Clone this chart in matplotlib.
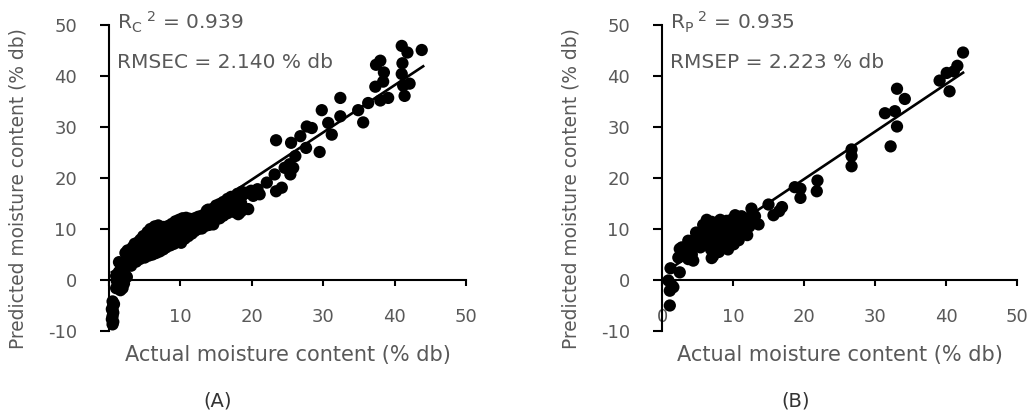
import matplotlib
matplotlib.use("Agg")
import matplotlib.pyplot as plt

plt.rcParams['font.family'] = ['DejaVu Sans']

# ---------------- Panel A: calibration set ----------------
A_actual = [
    0.5, 0.6, 0.4, 0.6, 0.5, 0.4, 0.6, 0.5, 0.7, 0.5,
    1.0, 1.3, 1.6, 1.9, 1.0, 1.4, 1.7, 2.1, 1.4, 1.9, 2.2, 2.5, 1.6, 2.4, 1.1, 2.3, 2.6,
    2.7, 2.9, 3.1, 3.2, 3.4, 3.3, 3.6, 3.8, 3.9, 4.0, 4.1,
    4.3, 4.5, 4.6, 4.4, 4.8, 5.0, 5.1, 5.2, 5.0, 5.3, 5.4, 5.6, 5.7, 5.8, 5.6, 5.9, 5.8,
    6.1, 6.2, 6.0, 6.3, 6.2, 6.4, 6.6, 6.7, 6.5, 6.8, 6.7, 6.9, 7.1, 7.2, 7.0, 7.3, 7.2,
    7.6, 7.7, 7.5, 7.8, 7.6,
    8.0, 8.1, 8.2, 8.0, 8.3, 8.6, 8.5, 8.7, 8.6, 8.8, 9.1, 9.0, 9.2, 9.1, 9.3,
    9.6, 9.5, 9.7, 9.6, 9.8,
    10.1, 10.0, 10.2, 10.1, 10.3, 10.6, 10.5, 10.7, 10.6, 10.8, 11.1, 11.0, 11.2, 11.1, 11.3,
    11.6, 11.5, 11.7, 11.6, 12.0, 12.1, 12.2, 12.0,
    12.5, 12.6, 12.7, 12.5, 13.0, 13.1, 13.2, 13.0, 13.5, 13.6, 13.4, 13.7, 14.0, 14.1, 14.2, 13.9,
    14.6, 14.5, 14.7, 14.6, 15.0, 15.1, 15.2, 15.0, 15.5, 15.6, 15.7, 15.5, 16.0, 16.1, 16.2, 16.0,
    16.6, 16.5, 16.7, 16.6, 17.1, 17.0, 17.2, 17.1, 17.6, 17.5, 17.7, 18.1, 18.0, 18.2, 18.0,
    18.6, 18.5, 18.7, 18.6,
    19.3, 19.5, 18.3, 20.2, 21.1, 22.1, 23.4, 23.2, 24.2, 24.6, 25.4, 25.8, 25.3, 26.1,
    23.4, 25.5, 26.8, 27.6, 27.7, 28.4, 29.5, 29.8, 30.7, 31.2, 32.4, 32.4, 34.9, 35.6,
    36.3, 37.3, 38.0, 39.1, 38.4, 38.5, 37.4, 38.0, 41.0, 41.8, 43.8, 41.1, 41.0, 42.1,
    41.2, 41.4, 19.9, 20.8,
]
A_predicted = [
    -4.2, -5.0, -5.7, -6.4, -7.1, -7.7, -8.2, -8.7, -4.7, -6.0,
    -1.6, -0.6, -2.0, -1.6, 0.8, 1.6, 0.3, -0.7, 3.5, 2.9, 1.1, 0.6, 3.3, 3.2, -0.2, 5.3, 5.8,
    4.2, 5.6, 2.8, 4.1, 5.3, 6.4, 7.1, 3.6, 5.0, 6.2, 7.4,
    4.1, 5.5, 6.8, 7.9, 8.6, 4.4, 5.6, 6.6, 7.6, 8.5, 9.4, 4.8, 6.0, 7.1, 8.2, 9.1, 10.0,
    5.0, 6.2, 7.4, 8.5, 9.6, 10.5, 5.3, 6.6, 7.8, 9.0, 10.2, 10.7, 5.6, 6.9, 8.1, 9.3, 10.1,
    6.0, 7.2, 8.4, 9.5, 10.4,
    6.4, 7.6, 8.7, 9.7, 10.6, 6.8, 7.9, 9.1, 10.1, 11.0, 7.1, 8.3, 9.4, 10.5, 11.5,
    7.6, 8.7, 9.9, 10.9, 11.8,
    7.3, 8.9, 10.1, 11.1, 12.1, 8.1, 9.3, 10.4, 11.4, 12.2, 8.6, 9.6, 10.6, 11.6, 12.0,
    9.1, 10.1, 11.1, 11.9, 9.6, 10.4, 11.3, 12.1,
    10.0, 10.9, 11.7, 12.4, 10.1, 11.1, 12.0, 12.6, 10.6, 11.6, 12.6, 13.6, 10.8, 11.9, 12.9, 13.8,
    10.9, 12.2, 13.1, 14.0, 11.9, 12.9, 13.6, 14.6, 12.1, 13.1, 14.1, 14.9, 12.6, 13.6, 14.6, 15.3,
    13.1, 14.1, 15.1, 15.9, 13.6, 14.6, 15.6, 16.3, 13.3, 14.9, 16.1, 12.9, 14.3, 15.6, 16.9,
    13.6, 15.1, 16.6, 17.3,
    17.1, 13.9, 13.2, 16.5, 16.8, 19.1, 17.4, 20.7, 18.1, 22.0, 20.7, 22.0, 22.7, 24.3,
    27.4, 26.9, 28.2, 25.9, 30.1, 29.8, 25.1, 33.3, 30.8, 28.5, 32.1, 35.7, 33.3, 30.9,
    34.7, 37.9, 35.2, 35.7, 38.9, 40.7, 42.2, 43.0, 45.9, 44.6, 45.1, 42.5, 40.4, 38.5,
    38.1, 36.1, 17.5, 17.8,
]
A_fit_intercept, A_fit_slope = 1.16, 0.926
A_fit_range = [0.4, 44.0]
A_r2_text = r'R$_\mathregular{C}$$^\mathregular{\ 2}$ = 0.939'
A_rmse_text = 'RMSEC = 2.140 % db'

# ---------------- Panel B: prediction set ----------------
B_actual = [
    1.1, 1.1, 1.4, 0.9, 1.2, 2.5, 2.3, 2.5, 3.7, 4.4, 3.0, 3.7, 4.6, 4.0, 5.4, 5.0, 5.8, 6.3,
    6.0, 6.5, 6.8, 7.2, 7.5, 7.0, 7.4, 7.8, 8.2, 8.0, 8.3, 8.5, 8.7, 8.0, 9.0, 9.2, 9.0, 9.4,
    9.6, 9.8, 10.0, 10.3, 10.2, 10.5, 10.6, 10.8, 11.0, 11.2, 11.0, 11.5, 11.8, 12.0, 12.3,
    12.0, 12.6, 13.1, 13.6, 13.0, 15.0, 15.7, 16.9, 16.5, 18.7, 19.5, 19.5, 21.9, 21.8,
    26.7, 26.7, 26.7, 32.2, 33.1, 32.8, 31.4, 33.1, 34.2, 39.1, 40.1, 40.5, 41.1, 41.6, 42.4,
    1.6, 2.8, 5.1, 7.6, 8.8, 9.4, 10.9, 11.4,
    6.9, 7.3, 7.7, 7.9, 8.4, 8.6, 8.9, 9.1, 9.3, 9.5, 9.7, 9.9, 10.1, 10.3, 10.5, 10.8,
    11.0, 11.3, 11.5, 11.8, 12.2, 12.5, 12.8, 6.2, 6.6, 7.0, 5.5, 4.8, 3.2, 4.2, 7.0,
]
B_predicted = [
    -5.0, -2.1, -1.1, -0.1, 2.3, 1.5, 4.4, 6.1, 4.1, 3.8, 5.0, 7.7, 8.0, 6.5, 6.4, 7.0, 10.8, 11.8,
    8.5, 9.5, 8.0, 4.7, 5.7, 7.0, 9.0, 10.2, 11.8, 6.5, 8.0, 9.5, 11.0, 5.5, 7.2, 8.5, 10.0, 11.2,
    6.8, 9.0, 10.5, 12.7, 8.0, 9.5, 11.5, 7.8, 10.0, 12.5, 8.8, 11.0, 9.5, 12.0, 10.5,
    8.8, 14.0, 12.5, 10.9, 11.5, 14.8, 12.7, 14.3, 13.5, 18.2, 17.9, 16.1, 19.5, 17.4,
    25.6, 24.3, 22.3, 26.2, 30.1, 33.1, 32.7, 37.5, 35.5, 39.1, 40.6, 37.0, 40.9, 42.0, 44.6,
    -1.4, 6.4, 7.0, 9.8, 8.2, 10.6, 10.2, 9.0,
    6.0, 7.5, 8.8, 10.8, 6.2, 7.5, 8.9, 11.6, 6.0, 7.8, 10.2, 11.9, 7.0, 8.7, 10.8, 12.3,
    9.0, 10.3, 12.0, 10.8, 11.3, 12.4, 12.8, 7.2, 10.6, 11.4, 9.0, 9.3, 6.3, 5.0, 4.3,
]
B_fit_intercept, B_fit_slope = 1.13, 0.932
B_fit_range = [0.9, 42.4]
B_r2_text = r'R$_\mathregular{P}$$^\mathregular{\ 2}$ = 0.935'
B_rmse_text = 'RMSEP = 2.223 % db'

x_ticks = [0, 10, 20, 30, 40, 50]
y_ticks = [-10, 0, 10, 20, 30, 40, 50]
x_label = 'Actual moisture content (% db)'
y_label = 'Predicted moisture content (% db)'

GRAY = '#595959'
W, H = 1032, 419
fig = plt.figure(figsize=(W / 100, H / 100), dpi=100)
axA = fig.add_axes([109 / W, 88 / H, 357 / W, 306 / H])
axB = fig.add_axes([662 / W, 88 / H, 355 / W, 306 / H])


def style(ax, xs, ys, fit_i, fit_s, fit_rng, t1, t2, show_zero, panel, px_center):
    ax.scatter(xs, ys, s=78, color='black', edgecolors='none', zorder=3, clip_on=False)
    lx = fit_rng
    ly = [fit_i + fit_s * v for v in lx]
    ax.plot(lx, ly, color='black', lw=1.9, zorder=4)
    ax.set_xlim(0, 50)
    ax.set_ylim(-10, 50)
    ax.spines['bottom'].set_position(('data', 0))
    for s in ['top', 'right']:
        ax.spines[s].set_visible(False)
    for s in ['left', 'bottom']:
        ax.spines[s].set_linewidth(1.5)
        ax.spines[s].set_color('black')
    ax.set_xticks(x_ticks)
    ax.set_xticklabels([str(t) if (t != 0 or show_zero) else '' for t in x_ticks])
    ax.set_yticks(y_ticks)
    ax.set_yticklabels([str(t) for t in y_ticks])
    ax.tick_params(axis='y', direction='out', length=6.5, width=1.5, pad=16.5,
                   labelsize=13, labelcolor=GRAY)
    ax.tick_params(axis='x', direction='out', length=4, width=1.5, pad=16,
                   labelsize=13, labelcolor=GRAY)
    ax.set_xlabel(x_label, fontsize=15, color=GRAY, va='center')
    ax.xaxis.set_label_coords(0.5, (331 - 355) / 306)
    ax.set_ylabel(y_label, fontsize=13.4, color=GRAY, va='center')
    ax.yaxis.set_label_coords(-0.255, 0.467)
    ax.text(0.022, 0.984, t1, transform=ax.transAxes, fontsize=14.5, color=GRAY,
            ha='left', va='baseline')
    ax.text(0.022, 0.859, t2, transform=ax.transAxes, fontsize=14.5, color=GRAY,
            ha='left', va='baseline')
    fig.text(px_center / W, 1 - 401 / H, panel, fontsize=14, color='#333333',
             ha='center', va='center')


style(axA, A_actual, A_predicted, A_fit_intercept, A_fit_slope, A_fit_range,
      A_r2_text, A_rmse_text, False, '(A)', 218)
style(axB, B_actual, B_predicted, B_fit_intercept, B_fit_slope, B_fit_range,
      B_r2_text, B_rmse_text, True, '(B)', 796)

fig.savefig('out.png', dpi=100)
